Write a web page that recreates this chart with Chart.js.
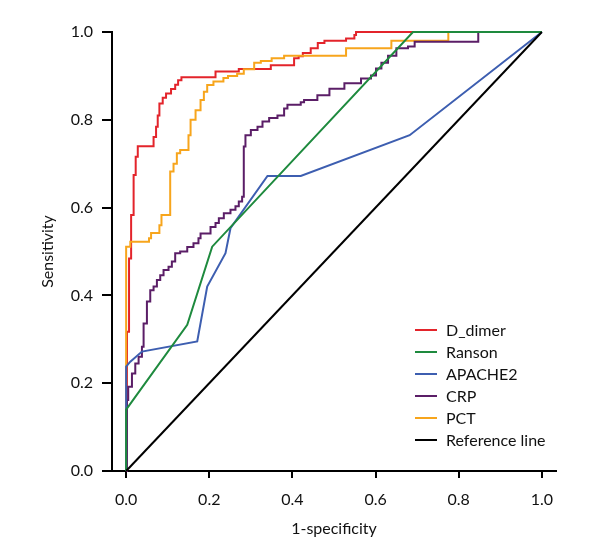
<!DOCTYPE html>
<html>
<head>
<meta charset="utf-8">
<script src="https://cdn.jsdelivr.net/npm/chart.js@4/dist/chart.umd.min.js"></script>
<style>
  body { margin: 0; background: #fff; }
  #wrap { width: 600px; height: 560px; }
</style>
</head>
<body>
<div id="wrap"><canvas id="roc" width="600" height="560"></canvas></div>
<script>
'use strict';

// ROC points: [1-specificity, sensitivity]
// stepped curves: each point is where the curve jumps up, and the new height
var dDimer = [[0,0],[0.002,0.317],[0.007,0.484],[0.012,0.583],[0.018,0.674],[0.023,0.716],
  [0.028,0.74],[0.066,0.761],[0.072,0.784],[0.076,0.81],[0.08,0.837],[0.088,0.85],[0.096,0.86],
  [0.108,0.87],[0.118,0.88],[0.125,0.89],[0.133,0.897],[0.215,0.91],[0.271,0.916],[0.348,0.924],
  [0.404,0.94],[0.415,0.945],[0.425,0.952],[0.444,0.963],[0.461,0.975],[0.477,0.98],
  [0.529,0.985],[0.549,0.993],[0.553,1.0],[1,1]];
var pct = [[0,0],[0,0.511],[0.01,0.522],[0.055,0.53],[0.06,0.542],[0.08,0.56],[0.085,0.583],
  [0.106,0.682],[0.114,0.70],[0.122,0.724],[0.13,0.731],[0.15,0.765],[0.155,0.80],[0.167,0.822],
  [0.179,0.845],[0.187,0.864],[0.195,0.879],[0.21,0.887],[0.234,0.895],[0.245,0.90],[0.267,0.905],
  [0.283,0.915],[0.308,0.93],[0.324,0.934],[0.35,0.94],[0.38,0.946],[0.529,0.963],[0.638,0.98],
  [0.775,1.0],[1,1]];
var crp = [[0,0],[0.002,0.162],[0.005,0.192],[0.014,0.222],[0.022,0.245],[0.03,0.26],[0.038,0.283],
  [0.042,0.336],[0.05,0.386],[0.058,0.412],[0.066,0.42],[0.074,0.435],[0.082,0.446],[0.09,0.458],
  [0.102,0.465],[0.11,0.477],[0.118,0.496],[0.13,0.50],[0.147,0.51],[0.162,0.519],[0.174,0.53],
  [0.179,0.541],[0.203,0.556],[0.215,0.565],[0.223,0.576],[0.235,0.587],[0.251,0.595],[0.263,0.603],
  [0.271,0.614],[0.279,0.625],[0.283,0.739],[0.287,0.765],[0.30,0.777],[0.316,0.784],[0.328,0.796],
  [0.344,0.804],[0.364,0.81],[0.38,0.826],[0.388,0.834],[0.42,0.84],[0.428,0.845],[0.46,0.856],
  [0.489,0.871],[0.525,0.883],[0.565,0.894],[0.589,0.901],[0.601,0.917],[0.614,0.93],[0.63,0.946],
  [0.65,0.963],[0.678,0.967],[0.694,0.978],[0.847,1.0],[1,1]];
// straight-segment curves
var ranson = [[0,0],[0,0.14],[0.147,0.333],[0.207,0.511],[0.69,1.0],[1,1]];
var apache2 = [[0,0],[0,0.238],[0.01,0.249],[0.038,0.272],[0.171,0.295],[0.195,0.42],[0.239,0.496],
  [0.251,0.553],[0.34,0.672],[0.42,0.672],[0.682,0.765],[1,1]];
var refLine = [[0,0],[1,1]];

var xTicks = [0, 0.2, 0.4, 0.6, 0.8, 1.0];
var yTicks = [0, 0.2, 0.4, 0.6, 0.8, 1.0];

var FONT = "Lato, 'Liberation Sans Narrow', sans-serif";
var FSIZE = 16;

function pts(arr) {
  return arr.map(function(p) { return {x: p[0], y: p[1]}; });
}

function series(label, arr, color, stepped, legendRow) {
  return {
    label: label,
    data: pts(arr),
    borderColor: color,
    backgroundColor: color,
    borderWidth: 2,
    pointRadius: 0,
    stepped: stepped ? 'before' : false,
    tension: 0,
    fill: false,
    clip: 4,
    legendRow: legendRow
  };
}

// legend drawn inside the plot, bottom right
var insideLegend = {
  id: 'insideLegend',
  afterDraw: function(chart) {
    var ctx = chart.ctx;
    var sets = chart.data.datasets.slice().sort(function(a, b) { return a.legendRow - b.legendRow; });
    ctx.save();
    ctx.font = FSIZE + 'px ' + FONT;
    ctx.textBaseline = 'middle';
    sets.forEach(function(ds, i) {
      var y = 330 + i * 22;
      ctx.strokeStyle = ds.borderColor;
      ctx.lineWidth = 2;
      ctx.beginPath();
      ctx.moveTo(415, y);
      ctx.lineTo(437, y);
      ctx.stroke();
      ctx.fillStyle = '#111';
      ctx.fillText(ds.label, 446, y + 1);
    });
    ctx.restore();
  }
};

var ctx = document.getElementById('roc');
var chart = new Chart(ctx, {
  type: 'line',
  data: {
    datasets: [
      series('Reference line', refLine, '#000000', false, 5),
      series('Ranson', ranson, '#1e8a3e', false, 1),
      series('APACHE2', apache2, '#3d5eb0', false, 2),
      series('CRP', crp, '#5b1e67', true, 3),
      series('PCT', pct, '#f7a51c', true, 4),
      series('D_dimer', dDimer, '#e3242b', true, 0)
    ]
  },
  plugins: [insideLegend],
  options: {
    responsive: false,
    animation: false,
    layout: { padding: { left: 38, top: 32, right: 44, bottom: 22 } },
    plugins: {
      legend: { display: false },
      tooltip: { enabled: false }
    },
    scales: {
      x: {
        type: 'linear',
        min: -0.034,
        max: 1.034,
        afterBuildTicks: function(scale) {
          scale.ticks = xTicks.map(function(v) { return {value: v}; });
        },
        afterFit: function(scale) { scale.height = 67; },
        border: { display: true, color: '#000', width: 2 },
        grid: { display: true, drawOnChartArea: false, drawTicks: true, tickLength: 7, color: '#000', lineWidth: 2 },
        ticks: {
          color: '#111',
          padding: 12,
          maxRotation: 0,
          font: { family: FONT, size: FSIZE },
          callback: function(v) { return Number(v).toFixed(1); }
        },
        title: {
          display: true,
          text: '1-specificity',
          color: '#111',
          padding: { top: 0, bottom: 0 },
          font: { family: FONT, size: FSIZE }
        }
      },
      y: {
        type: 'linear',
        min: 0,
        max: 1,
        afterBuildTicks: function(scale) {
          scale.ticks = yTicks.map(function(v) { return {value: v}; });
        },
        afterFit: function(scale) { scale.width = 74; },
        border: { display: true, color: '#000', width: 2 },
        grid: { display: true, drawOnChartArea: false, drawTicks: true, tickLength: 10, color: '#000', lineWidth: 2 },
        ticks: {
          color: '#111',
          padding: 9,
          font: { family: FONT, size: FSIZE },
          callback: function(v) { return Number(v).toFixed(1); }
        },
        title: {
          display: true,
          text: 'Sensitivity',
          color: '#111',
          padding: { top: 0, bottom: 0 },
          font: { family: FONT, size: FSIZE }
        }
      }
    }
  }
});
</script>
</body>
</html>
